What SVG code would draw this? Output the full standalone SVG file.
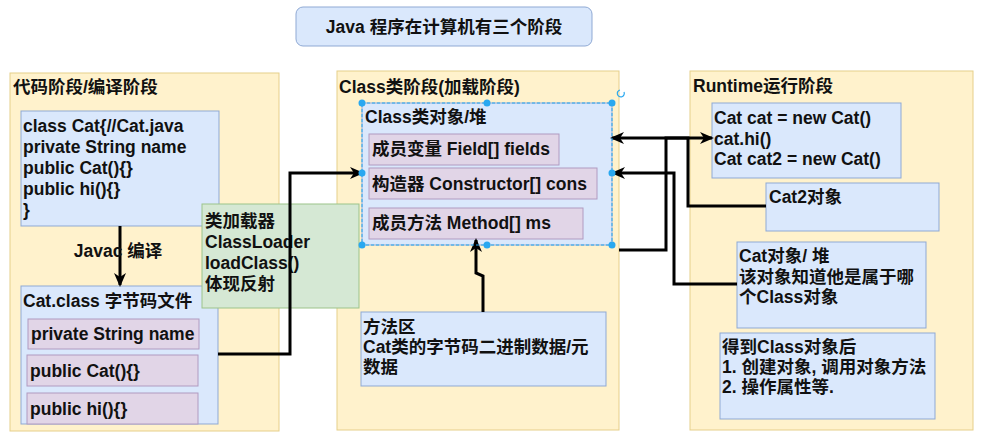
<svg xmlns="http://www.w3.org/2000/svg" width="981" height="448" viewBox="0 0 981 448">
<style>
text{font-family:"Liberation Sans","Noto Sans CJK SC",sans-serif;font-weight:bold;font-size:17.5px;fill:#111}
.stage{fill:#fff2cc;stroke:#e6cf8a;stroke-width:1}
.blue{fill:#dae8fc;stroke:#8fa9d4;stroke-width:1}
.purple{fill:#e1d5e7;stroke:#b09ac0;stroke-width:1}
.green{fill:#d5e8d4;stroke:#9cc38a;stroke-width:1}
.conn{fill:none;stroke:#000;stroke-width:3;marker-end:url(#arr)}
.handle{fill:#29a8f0}
</style>
<defs>
<marker id="arr" markerUnits="userSpaceOnUse" markerWidth="14" markerHeight="14" viewBox="0 0 14 14" refX="12" refY="7" orient="auto">
<path d="M0,1 L14,7 L0,13 L4,7 z" fill="#000"/>
</marker>
</defs>
<rect width="981" height="448" fill="#fff"/>
<g id="title">
<rect x="296" y="7" width="296" height="39" rx="7" class="blue"/>
<text x="444" y="33" text-anchor="middle" font-size="16.5">Java 程序在计算机有三个阶段</text>
</g>
<g id="stage-code">
<rect x="10" y="73" width="269" height="358" class="stage"/>
<text x="13" y="93">代码阶段/编译阶段</text>
</g>
<g id="stage-class">
<rect x="337" y="71" width="282" height="359" class="stage"/>
<text x="339" y="93">Class类阶段(加载阶段)</text>
</g>
<g id="stage-runtime">
<rect x="690" y="71" width="283" height="359" class="stage"/>
<text x="693" y="92">Runtime运行阶段</text>
</g>
<g id="cat-java">
<rect x="21" y="111" width="198" height="115" class="blue"/>
<text x="23" y="132">class Cat{//Cat.java</text>
<text x="23" y="153">private String name</text>
<text x="23" y="174">public Cat(){}</text>
<text x="23" y="195">public hi(){}</text>
<text x="23" y="216">}</text>
</g>
<g id="cat-class">
<rect x="21" y="286" width="197" height="138" class="blue"/>
<text x="23" y="307">Cat.class 字节码文件</text>
<rect x="28" y="319" width="171" height="30" class="purple"/>
<text x="31" y="340">private String name</text>
<rect x="27" y="355" width="171" height="31" class="purple"/>
<text x="30" y="377">public Cat(){}</text>
<rect x="27" y="393" width="171" height="31" class="purple"/>
<text x="30" y="415">public hi(){}</text>
</g>
<g id="classloader">
<rect x="202" y="204" width="157" height="104" class="green"/>
<text x="205" y="227">类加载器</text>
<text x="205" y="248">ClassLoader</text>
<text x="205" y="269">loadClass()</text>
<text x="205" y="290">体现反射</text>
</g>
<g id="class-object">
<rect x="362" y="103" width="250" height="142" class="blue"/>
<text x="365" y="123">Class类对象/堆</text>
<rect x="369" y="134" width="190" height="31" class="purple"/>
<text x="372" y="155">成员变量 Field[] fields</text>
<rect x="369" y="168" width="228" height="31" class="purple"/>
<text x="372" y="190">构造器 Constructor[] cons</text>
<rect x="369" y="208" width="214" height="31" class="purple"/>
<text x="372" y="229">成员方法 Method[] ms</text>
</g>
<g id="method-area">
<rect x="361" y="312" width="245" height="74" class="blue"/>
<text x="363" y="333">方法区</text>
<text x="363" y="353">Cat类的字节码二进制数据/元</text>
<text x="363" y="373">数据</text>
</g>
<g id="runtime-code">
<rect x="712" y="103" width="189" height="75" class="blue"/>
<text x="714" y="124">Cat cat = new Cat()</text>
<text x="714" y="145">cat.hi()</text>
<text x="714" y="165">Cat cat2 = new Cat()</text>
</g>
<g id="cat2-object">
<rect x="766" y="183" width="173" height="48" class="blue"/>
<text x="769" y="203">Cat2对象</text>
</g>
<g id="cat-object">
<rect x="737" y="242" width="189" height="86" class="blue"/>
<text x="739" y="262">Cat对象/ 堆</text>
<text x="739" y="283">该对象知道他是属于哪</text>
<text x="739" y="303">个Class对象</text>
</g>
<g id="after-class">
<rect x="720" y="333" width="215" height="86" class="blue"/>
<text x="722" y="353">得到Class对象后</text>
<text x="722" y="373">1. 创建对象, 调用对象方法</text>
<text x="722" y="393">2. 操作属性等.</text>
</g>
<g id="connectors">
<path class="conn" d="M120 226 V285"/>
<path class="conn" d="M218 354 H290 V173 H362"/>
<path class="conn" d="M483 312 V276 L476 273 V240"/>
<path class="conn" d="M619 250 H666 V138 H712"/>
<path class="conn" d="M766 206 H688 V138 H612"/>
<path class="conn" d="M737 284 H674 V173 H613"/>
</g>
<g id="connector-labels">
<text x="118" y="257" text-anchor="middle" font-size="16">Javac 编译</text>
</g>
<g id="selection">
<rect x="362" y="103" width="250" height="142" fill="none" stroke="#29a8f0" stroke-width="1" stroke-dasharray="3 2"/>
<circle class="handle" cx="362" cy="103" r="3.5"/>
<circle class="handle" cx="487" cy="103" r="3.5"/>
<circle class="handle" cx="612" cy="103" r="3.5"/>
<circle class="handle" cx="362" cy="173" r="3.5"/>
<circle class="handle" cx="612" cy="173" r="3.5"/>
<circle class="handle" cx="362" cy="245" r="3.5"/>
<circle class="handle" cx="487" cy="245" r="3.5"/>
<circle class="handle" cx="612" cy="245" r="3.5"/>
<path d="M624 92 A3.5 3.5 0 1 1 620 90" fill="none" stroke="#29a8f0" stroke-width="1.2"/>
</g>
</svg>
